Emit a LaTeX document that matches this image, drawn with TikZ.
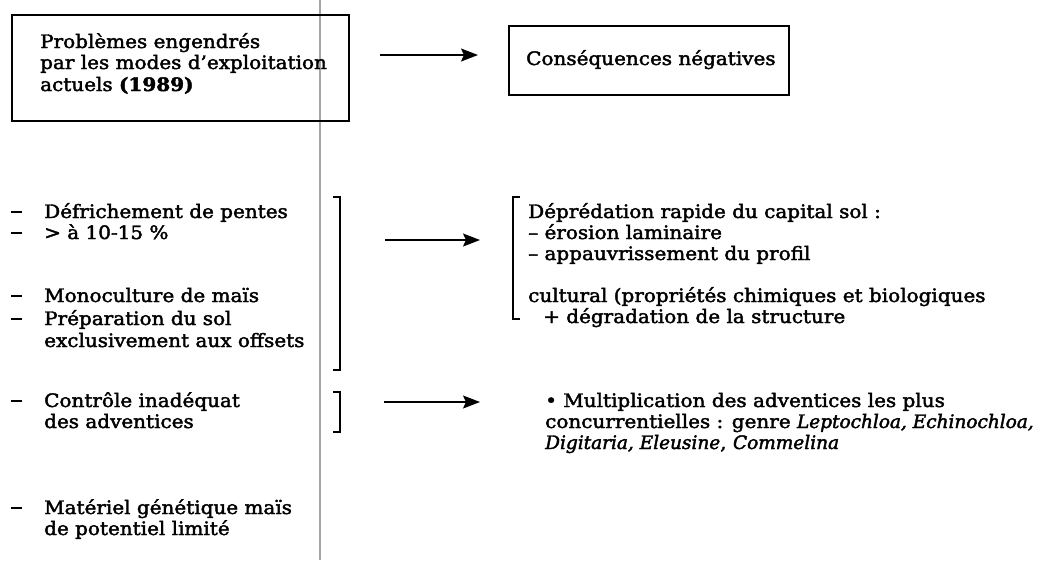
\documentclass[tikz,border=0pt]{standalone}
\usepackage{fontspec}
\setmainfont{DejaVu Serif}[FakeStretch=1.08, FakeBold=2.2, ItalicFeatures={FakeStretch=1.0, FakeBold=2.2}]
\usetikzlibrary{arrows.meta}
\newcommand\dashitem[1]{\makebox[33pt][l]{\rule[5.5pt]{11pt}{1.8pt}}#1}
\begin{document}
\begin{tikzpicture}[x=1pt,y=-1pt,
  txt/.style={font=\fontsize{18.5}{21.5}\selectfont, inner sep=0pt, anchor=base west},
  boxst/.style={draw, line width=1.8pt, inner sep=0pt, anchor=north west},
  arr/.style={line width=1.5pt, -{Stealth[length=17pt,width=13pt,inset=3pt]}},
  brk/.style={line width=1.3pt},
  sepline/.style={draw=black!35, line width=1.5pt}]
\useasboundingbox (0,0) rectangle (1051,560);
% separator
\draw[sepline] (320,0) -- (320,560);
% header boxes
\node[boxst, minimum width=337pt, minimum height=106pt] (lbox) at (11,14) {};
\node[txt] (h1) at (40,48) {Problèmes engendrés};
\node[txt] (h2) at (40,69) {par les modes d'exploitation};
\node[txt] (h3) at (40,91) {actuels \textbf{(1989)}};
\node[boxst, minimum width=280pt, minimum height=69pt] (rbox) at (508,25) {};
\node[txt] (h4) at (526,65) {Conséquences négatives};
\coordinate (a1s) at (380,55);
\coordinate (a1e) at (478,55);
\draw[arr] (a1s) -- (a1e);
% left items
\node[txt] (l1) at (11,218) {\dashitem{Défrichement de pentes}};
\node[txt] (l2) at (11,239) {\dashitem{> à 10-15 \%}};
\node[txt] (l3) at (11,302) {\dashitem{Monoculture de maïs}};
\node[txt] (l4) at (11,325) {\dashitem{Préparation du sol}};
\node[txt] (l5) at (44,347) {exclusivement aux offsets};
\node[txt] (l6) at (11,407) {\dashitem{Contrôle inadéquat}};
\node[txt] (l7) at (44,428) {des adventices};
\node[txt] (l8) at (11,514) {\dashitem{Matériel génétique maïs}};
\node[txt] (l9) at (44,535) {de potentiel limité};
% brackets
\draw[brk] (333,197) -- (340,197) -- (340,370) -- (333,370);
\draw[brk] (520,197) -- (513,197) -- (513,319) -- (520,319);
\draw[brk] (333,392) -- (340,392) -- (340,432) -- (333,432);
% arrows
\coordinate (a2s) at (385,240);
\coordinate (a2e) at (480,240);
\draw[arr] (a2s) -- (a2e);
\coordinate (a3s) at (384,402);
\coordinate (a3e) at (480,402);
\draw[arr] (a3s) -- (a3e);
% right items
\node[txt] (r1) at (528,218) {Déprédation rapide du capital sol :};
\node[txt] (r2) at (528,239) {– érosion laminaire};
\node[txt] (r3) at (528,260) {– appauvrissement du profil};
\node[txt] (r4) at (528,302) {cultural (propriétés chimiques et biologiques};
\node[txt] (r5) at (543,323) {+ dégradation de la structure};
\node[txt] (r6) at (545,407) {• Multiplication des adventices les plus};
\node[txt] (r7) at (545,428) {concurrentielles : genre \textit{Leptochloa, Echinochloa,}};
\node[txt] (r8) at (545,449) {\textit{Digitaria, Eleusine}, \textit{Commelina}};
\end{tikzpicture}
\end{document}
